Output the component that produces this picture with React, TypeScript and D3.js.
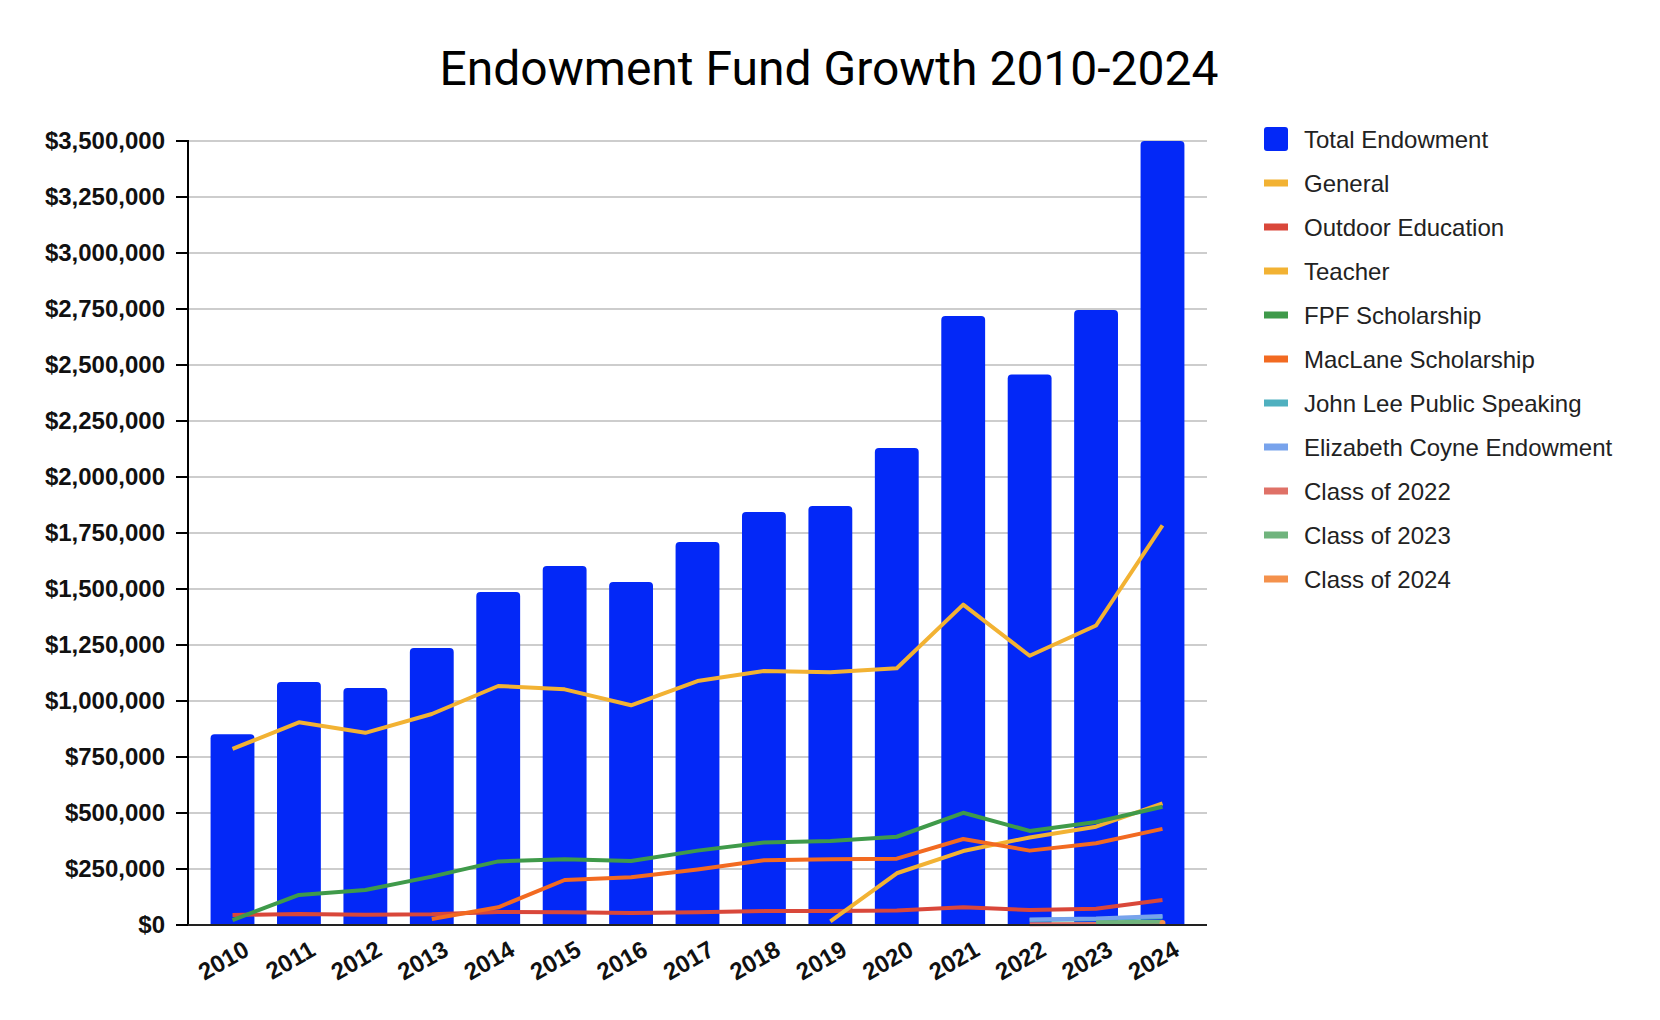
import * as d3 from 'd3'

const years = ['2010', '2011', '2012', '2013', '2014', '2015', '2016', '2017', '2018', '2019', '2020', '2021', '2022', '2023', '2024']

const totalEndowment = [852000, 1085000, 1058000, 1237000, 1487000, 1603000, 1531000, 1710000, 1844000, 1871000, 2130000, 2719000, 2458000, 2746000, 3500000]

const general = [786000, 905000, 858000, 942000, 1067000, 1052000, 981000, 1089000, 1134000, 1128000, 1146000, 1430000, 1202000, 1337000, 1784000]
const outdoorEducation = [45000, 49000, 46000, 48000, 58000, 57000, 54000, 57000, 62000, 62000, 65000, 79000, 67000, 73000, 112000]
const teacher = [null, null, null, null, null, null, null, null, null, 16000, 231000, 330000, 391000, 439000, 543000]
const fpfScholarship = [22000, 134000, 156000, 216000, 284000, 293000, 286000, 332000, 368000, 375000, 394000, 501000, 420000, 460000, 528000]
const macLaneScholarship = [null, null, null, 27000, 79000, 201000, 213000, 248000, 289000, 293000, 296000, 384000, 332000, 365000, 429000]
const johnLee = [null, null, null, null, null, null, null, null, null, null, null, null, 22000, 26000, 36000]
const elizabethCoyne = [null, null, null, null, null, null, null, null, null, null, null, null, 25000, 29000, 40000]
const class2022 = [null, null, null, null, null, null, null, null, null, null, null, null, 3000, 4000, 5000]
const class2023 = [null, null, null, null, null, null, null, null, null, null, null, null, null, 12000, 15000]
const class2024 = [null, null, null, null, null, null, null, null, null, null, null, null, null, null, 9000]

const yTicks = [0, 250000, 500000, 750000, 1000000, 1250000, 1500000, 1750000, 2000000, 2250000, 2500000, 2750000, 3000000, 3250000, 3500000]

const BAR_COLOR = '#0328f7'

const lineSeries: { name: string; values: (number | null)[]; color: string }[] = [
  { name: 'General', values: general, color: '#f2b233' },
  { name: 'Outdoor Education', values: outdoorEducation, color: '#d9473a' },
  { name: 'Teacher', values: teacher, color: '#f2b233' },
  { name: 'FPF Scholarship', values: fpfScholarship, color: '#3f9a4a' },
  { name: 'MacLane Scholarship', values: macLaneScholarship, color: '#f26a21' },
  { name: 'John Lee Public Speaking', values: johnLee, color: '#4fb0bf' },
  { name: 'Elizabeth Coyne Endowment', values: elizabethCoyne, color: '#78a3ec' },
  { name: 'Class of 2022', values: class2022, color: '#df7167' },
  { name: 'Class of 2023', values: class2023, color: '#70b47d' },
  { name: 'Class of 2024', values: class2024, color: '#f4914c' },
]

const W = 1660
const H = 1020
const plot = { left: 188, right: 1207, top: 141, bottom: 925 }

export default function App() {
  const x = d3.scaleBand<string>().domain(years).range([plot.left, plot.right]).padding(0.34)
  const y = d3.scaleLinear().domain([0, 3500000]).range([plot.bottom, plot.top])
  const cx = (yr: string) => (x(yr) ?? 0) + x.bandwidth() / 2
  const bw = x.bandwidth()

  const line = d3
    .line<{ yr: string; v: number | null }>()
    .defined(d => d.v != null)
    .x(d => cx(d.yr))
    .y(d => y(d.v as number))

  // bar with rounded top corners
  const barPath = (yr: string, v: number) => {
    const x0 = x(yr) ?? 0
    const y0 = y(v)
    const r = 4
    return `M${x0},${plot.bottom}V${y0 + r}Q${x0},${y0} ${x0 + r},${y0}H${x0 + bw - r}Q${x0 + bw},${y0} ${x0 + bw},${y0 + r}V${plot.bottom}Z`
  }

  const fmt = (v: number) => '$' + d3.format(',')(v)

  const legendItems = [{ name: 'Total Endowment', color: BAR_COLOR, bar: true }, ...lineSeries.map(s => ({ name: s.name, color: s.color, bar: false }))]

  return (
    <div style={{ position: 'absolute', left: 0, top: 0, background: '#fff' }}>
      <svg width={W} height={H} style={{ display: 'block' }}>
        <rect width={W} height={H} fill="#fff" />
        <text x={829} y={85} textAnchor="middle" fontFamily="Roboto" fontSize={48} fill="#000">
          Endowment Fund Growth 2010-2024
        </text>

        {/* gridlines */}
        {yTicks.map(t => (
          <line key={'g' + t} x1={plot.left} x2={plot.right} y1={y(t)} y2={y(t)} stroke="#bdbdbd" strokeWidth={1.6} />
        ))}

        {/* bars */}
        {years.map((yr, i) => (
          <path key={'b' + yr} d={barPath(yr, totalEndowment[i])} fill={BAR_COLOR} />
        ))}

        {/* lines */}
        {lineSeries.map(s => {
          const pts = years.map((yr, i) => ({ yr, v: s.values[i] }))
          const valid = pts.filter(p => p.v != null)
          if (valid.length === 1) {
            return <circle key={s.name} cx={cx(valid[0].yr)} cy={y(valid[0].v as number)} r={3} fill={s.color} />
          }
          return <path key={s.name} d={line(pts) ?? ''} fill="none" stroke={s.color} strokeWidth={4} strokeLinejoin="round" />
        })}

        {/* axes */}
        <line x1={plot.left} x2={plot.left} y1={plot.top - 1} y2={plot.bottom + 1} stroke="#000" strokeWidth={2} />
        <line x1={plot.left} x2={plot.right} y1={plot.bottom} y2={plot.bottom} stroke="#222" strokeWidth={2} />
        {yTicks.map(t => (
          <g key={'t' + t}>
            <line x1={plot.left - 12} x2={plot.left} y1={y(t)} y2={y(t)} stroke="#000" strokeWidth={2} />
            <text
              x={165}
              y={y(t)}
              dy="0.35em"
              textAnchor="end"
              fontFamily="Liberation Sans, Arial"
              fontWeight="bold"
              fontSize={24}
              fill="#111"
            >
              {fmt(t)}
            </text>
          </g>
        ))}

        {/* x labels */}
        {years.map(yr => (
          <text
            key={'x' + yr}
            transform={`translate(${cx(yr) + 14},${plot.bottom + 22}) rotate(-30)`}
            textAnchor="end"
            dy="0.35em"
            fontFamily="Liberation Sans, Arial"
            fontWeight="bold"
            fontSize={24}
            fill="#111"
          >
            {yr}
          </text>
        ))}

        {/* legend */}
        {legendItems.map((item, i) => {
          const cy = 139 + i * 44
          return (
            <g key={'l' + item.name}>
              {item.bar ? (
                <rect x={1264} y={cy - 12} width={24} height={24} rx={3} fill={item.color} />
              ) : (
                <rect x={1264} y={cy - 3.5} width={24} height={7} fill={item.color} />
              )}
              <text x={1304} y={cy} dy="0.36em" fontFamily="Liberation Sans, Arial" fontSize={24} fill="#222">
                {item.name}
              </text>
            </g>
          )
        })}
      </svg>
    </div>
  )
}
